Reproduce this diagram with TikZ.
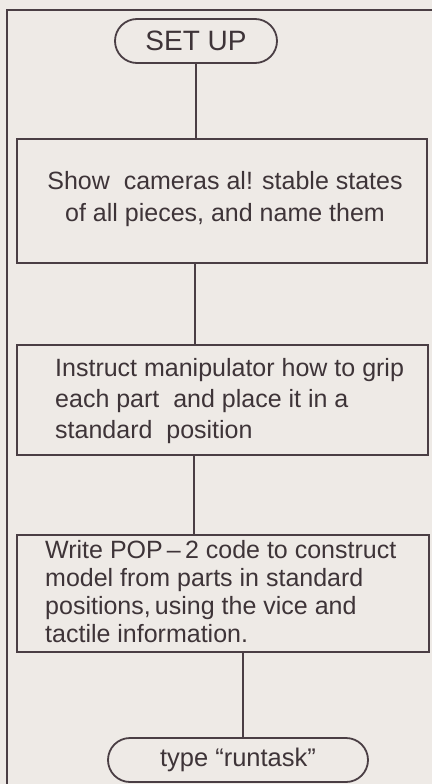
\documentclass[tikz,border=0pt]{standalone}
\usepackage{fontspec}
\setmainfont{Liberation Sans}
\usetikzlibrary{shapes.misc}
\definecolor{paper}{HTML}{EEEAE6}
\definecolor{ink}{HTML}{4A3E44}
\definecolor{txt}{HTML}{3E3438}
\begin{document}
\begin{tikzpicture}[x=1pt,y=1pt,
  every node/.style={text=txt},
  line/.style={draw=ink,line width=1.8pt},
  term/.style={line,rounded rectangle,minimum height=44,inner sep=0pt},
  box/.style={line,rectangle,inner sep=0pt},
  words/.style={inner sep=0pt,align=left,font=\fontsize{25}{31}\selectfont}]
\useasboundingbox (0,0) rectangle (431,-784);
\fill[paper] (-5,5) rectangle (440,-790);
\coordinate (fa) at (432,-10);
\coordinate (fb) at (7,-10);
\coordinate (fc) at (7,-785);
\draw[line] (fa) -- (fb) -- (fc);
\node[term,minimum width=162,font=\fontsize{28}{30}\selectfont] (t1) at (196,-41) {SET UP};
\node[box,minimum width=410,minimum height=124] (b1) at (222,-201) {};
\node[words,align=center,font=\fontsize{25}{32}\selectfont] (b1t) at (225,-199)
  {Show\ \ cameras al! stable states\\of all pieces, and name them};
\node[box,minimum width=411,minimum height=110] (b2) at (222.5,-400) {};
\node[words,anchor=west] (b2t) at (55,-401)
  {Instruct manipulator how to grip\\each part\ \ and place it in a\\standard\ \ position};
\node[box,minimum width=412,minimum height=117] (b3) at (223,-593.5) {};
\node[words,anchor=west,font=\fontsize{25}{28}\selectfont] (b3t) at (45,-592)
  {Write POP\,--\,2 code to construct\\model from parts in standard\\positions,\,using the vice and\\tactile information.};
\node[term,minimum width=260,font=\fontsize{25.5}{28}\selectfont] (t2) at (238,-760) {type “runtask”};
\draw[line] (t1.south) -- (t1.south |- b1.north);
\draw[line] ([xshift=-1pt]t1.south |- b1.south) -- ([xshift=-1pt]t1.south |- b2.north);
\draw[line] ([xshift=-2pt]t1.south |- b2.south) -- ([xshift=-2pt]t1.south |- b3.north);
\draw[line] ([xshift=5pt]t2.north |- b3.south) -- ([xshift=5pt]t2.north);
\end{tikzpicture}
\end{document}
